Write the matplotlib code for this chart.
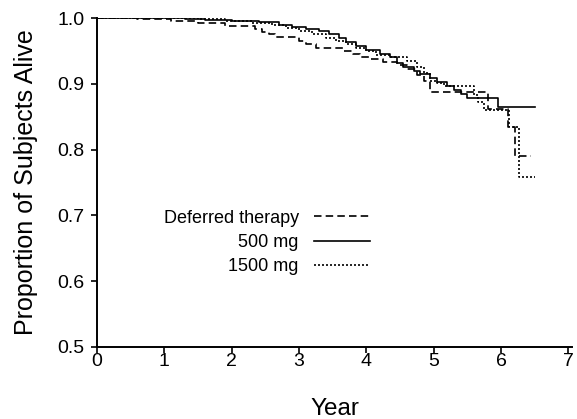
import numpy as np
import matplotlib.pyplot as plt

plt.rcParams["font.family"] = ["Liberation Sans", "DejaVu Sans"]

# Kaplan-Meier step estimates (year, proportion alive)
deferred_t = [0, 0.6, 1.1, 1.5, 1.9, 2.35, 2.45, 2.55, 2.65, 3.0, 3.1, 3.25, 3.65,
              3.8, 3.9, 4.05, 4.25, 4.45, 4.6, 4.75, 4.85, 4.95, 5.8, 6.1, 6.2, 6.45]
deferred_s = [1.0, 0.998, 0.996, 0.993, 0.988, 0.984, 0.979, 0.975, 0.971, 0.965, 0.960,
              0.955, 0.950, 0.945, 0.941, 0.937, 0.933, 0.928, 0.922, 0.914, 0.905, 0.887,
              0.862, 0.835, 0.79, 0.79]

mg500_t = [0, 1.3, 1.6, 2.0, 2.4, 2.7, 2.9, 3.1, 3.3, 3.45, 3.6, 3.7, 3.85, 4.0, 4.2,
           4.35, 4.45, 4.55, 4.7, 4.8, 4.95, 5.05, 5.2, 5.3, 5.4, 5.5, 5.95, 6.5]
mg500_s = [1.0, 0.998, 0.997, 0.996, 0.994, 0.99, 0.987, 0.983, 0.98, 0.975, 0.97,
           0.964, 0.958, 0.952, 0.946, 0.94, 0.932, 0.926, 0.92, 0.915, 0.909, 0.903,
           0.897, 0.89, 0.884, 0.878, 0.865, 0.865]

mg1500_t = [0, 1.5, 1.9, 2.3, 2.6, 2.8, 3.0, 3.2, 3.4, 3.55, 3.7, 3.85, 4.0, 4.15, 4.35,
            4.6, 4.75, 4.85, 4.95, 5.05, 5.15, 5.6, 5.65, 5.75, 5.85, 6.12, 6.27, 6.5]
mg1500_s = [1.0, 0.998, 0.996, 0.993, 0.99, 0.985, 0.98, 0.975, 0.97, 0.965, 0.96, 0.955,
            0.95, 0.944, 0.941, 0.935, 0.925, 0.916, 0.905, 0.901, 0.897, 0.883, 0.872,
            0.86, 0.86, 0.835, 0.758, 0.758]

fig = plt.figure(figsize=(5.77, 4.19), dpi=100)
ax = fig.add_axes([0.168, 0.172, 0.823, 0.785])

ax.plot(deferred_t, deferred_s, drawstyle="steps-post", color="black", lw=1.2,
        dashes=(4.5, 2.5), label="Deferred therapy")
ax.plot(mg500_t, mg500_s, drawstyle="steps-post", color="black", lw=1.2, label="500 mg")
ax.plot(mg1500_t, mg1500_s, drawstyle="steps-post", color="black", lw=1.2,
        dashes=(1.2, 1.2), label="1500 mg")

ax.set_xlim(0, 7.05)
ax.set_ylim(0.5, 1.0)
ax.set_xticks(range(8))
ax.set_yticks(np.arange(0.5, 1.01, 0.1))
ax.set_yticklabels(["0.5", "0.6", "0.7", "0.8", "0.9", "1.0"])
ax.tick_params(direction="out", length=4, width=1.2, labelsize=14)
ax.tick_params(axis="x", pad=0.5)
ax.tick_params(axis="y", pad=5)
for side in ["top", "right"]:
    ax.spines[side].set_visible(False)
for side in ["left", "bottom"]:
    ax.spines[side].set_linewidth(1.4)

ax.set_xlabel("Year", fontsize=17.5, labelpad=20)
ax.set_ylabel("Proportion of Subjects Alive", fontsize=18, labelpad=14)

ax.legend(loc="center right", bbox_to_anchor=(0.575, 0.318), frameon=False,
          markerfirst=False, fontsize=13, handlelength=3.1, handletextpad=0.85,
          labelspacing=0.4, borderpad=0, borderaxespad=0)

fig.savefig("out.png", dpi=100)
